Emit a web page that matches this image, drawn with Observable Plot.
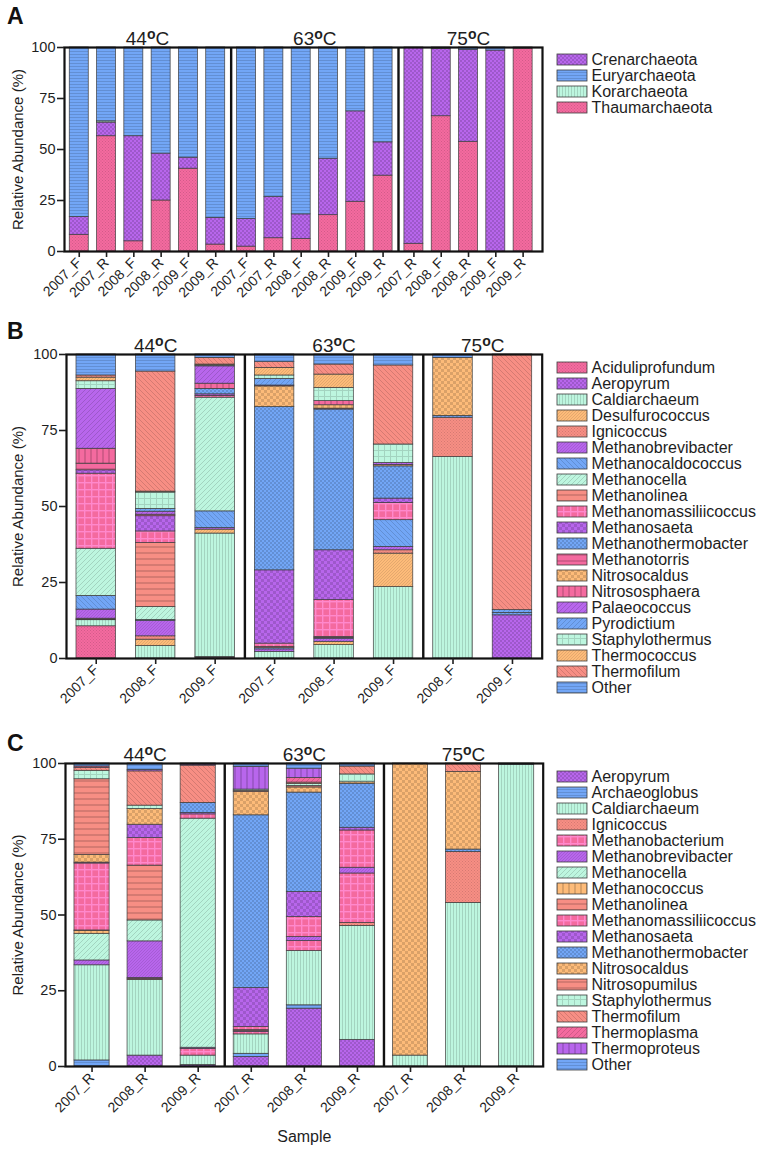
<!DOCTYPE html>
<html><head><meta charset="utf-8">
<script src="https://cdn.jsdelivr.net/npm/d3@7"></script>
<script src="https://cdn.jsdelivr.net/npm/@observablehq/plot@0.6"></script>
<style>
body{margin:0;background:#fff;font-family:"Liberation Sans",Arial,sans-serif;}
#fig{position:relative;width:769px;height:1150px;overflow:hidden;background:#fff}
.abs{position:absolute}
.letter{font-weight:bold;font-size:23px;line-height:1;color:#111}
</style></head><body><div id="fig"></div>
<script>
// ---------------- DATA ----------------
const tempGroups = ["44", "63", "75"];

// Panel A (phylum level)
const samplesA = ["2007_F","2007_R","2008_F","2008_R","2009_F","2009_R",
                  "2007_F","2007_R","2008_F","2008_R","2009_F","2009_R",
                  "2007_R","2008_F","2008_R","2009_F","2009_R"];
const tempsA = ["44","44","44","44","44","44","63","63","63","63","63","63","75","75","75","75","75"];
const legendA = ["Crenarchaeota","Euryarchaeota","Korarchaeota","Thaumarchaeota"];
const stackA = ["Thaumarchaeota","Crenarchaeota","Korarchaeota","Euryarchaeota"];
const thaumarchaeotaA = [8.2,56.5,5.0,25.0,40.6,3.4, 2.4,6.5,6.1,17.8,24.4,37.2, 3.8,66.3,53.8,0,99.5];
const crenarchaeotaA  = [8.7,6.7,51.5,23.0,5.4,13.1, 13.5,20.2,12.1,27.7,44.3,16.3, 96.2,33.0,45.0,98.5,0];
const korarchaeotaA   = [0,0.6,0,0,0,0, 0,0,0,0,0,0, 0,0.4,0,0,0.2];
const euryarchaeotaA  = [83.1,36.2,43.5,52.0,54.0,83.5, 84.1,73.3,81.8,54.5,31.3,46.5, 0,0.3,1.2,1.5,0.3];

// Panel B (genus level, F samples)
const generaB = ["Aciduliprofundum","Aeropyrum","Caldiarchaeum","Desulfurococcus","Ignicoccus",
  "Methanobrevibacter","Methanocaldococcus","Methanocella","Methanolinea","Methanomassiliicoccus",
  "Methanosaeta","Methanothermobacter","Methanotorris","Nitrosocaldus","Nitrososphaera",
  "Palaeococcus","Pyrodictium","Staphylothermus","Thermococcus","Thermofilum","Other"];
const samplesB = ["2007_F","2008_F","2009_F","2007_F","2008_F","2009_F","2008_F","2009_F"];
const tempsB = ["44","44","44","63","63","63","75","75"];
const b44_2007F = [10.6,0,2.0,0.2,0.3,3.0,4.5,15.5,0,24.7,1.1,0,2.2,0,4.9,19.7,0,2.5,1.2,0.7,6.9];
const b44_2008F = [0,0,4.1,2.1,1.1,5.1,0.3,4.2,21.1,3.8,5.0,0,0.5,0,0,1.0,0.9,5.4,0.3,39.5,5.6];
const b44_2009F = [0.3,0.2,40.6,1.3,0,0.5,5.5,37.4,0,0.6,0.5,1.8,0,0,1.7,5.7,0,0.3,0.3,2.2,1.1];
const b63_2007F = [0,0,2.2,0,0,0.8,0.4,0,0.4,1.1,24.1,53.7,0,6.8,0,0.3,2.2,1.1,2.5,1.9,2.5];
const b63_2008F = [0,0,4.4,1.1,0,1.0,0.3,0,0.3,12.1,16.4,46.3,0.3,1.1,1.4,0,0,4.3,4.4,3.3,3.3];
const b63_2009F = [0,0,23.5,11.0,1.1,1.1,8.8,0,0,5.7,1.4,10.6,0,0.5,0,0.6,0,6.1,0,26.0,3.6];
const b75_2008F = [0,0,66.3,0,12.9,0,0,0,0,0,0,0.6,0,19.1,0,0,0,0,0,0,1.1];
const b75_2009F = [0,14.2,0,0,0,0,0,0,0,0,0,0.8,0,0,0,0,0.9,0,0,84.1,0];

// Panel C (genus level, R samples)
const generaC = ["Aeropyrum","Archaeoglobus","Caldiarchaeum","Ignicoccus","Methanobacterium",
  "Methanobrevibacter","Methanocella","Methanococcus","Methanolinea","Methanomassiliicoccus",
  "Methanosaeta","Methanothermobacter","Nitrosocaldus","Nitrosopumilus","Staphylothermus",
  "Thermofilum","Thermoplasma","Thermoproteus","Other"];
const samplesC = ["2007_R","2008_R","2009_R","2007_R","2008_R","2009_R","2007_R","2008_R","2009_R"];
const tempsC = ["44","44","44","63","63","63","75","75","75"];
const c44_2007R = [0,2.0,31.4,0,0,1.6,8.8,0.9,0.2,22.1,0.3,0,2.5,25.0,2.8,0.9,0.5,0,1.0];
const c44_2008R = [3.6,0,25.0,0.3,0.3,12.1,6.9,0,18.1,9.1,4.4,0,5.2,0,1.1,11.3,0,0.5,2.1];
const c44_2009R = [0.5,0,3.1,0,2.2,0.4,75.6,0,0,1.4,0.5,3.3,0,0,0,12.3,0,0.4,0.3];
const c63_2007R = [3.1,1.1,6.4,0,0.8,0.3,0,0,0.3,1.0,12.9,57.0,7.7,0.4,0.4,0,0,7.5,1.1];
const c63_2008R = [19.1,1.1,17.9,0,3.3,1.3,0,0,0,6.6,8.3,32.8,1.7,0.5,0.6,0.5,1.5,3.1,1.7];
const c63_2009R = [8.8,0,37.6,1.0,16.3,1.9,0,0,0,12.3,0.9,14.5,0.5,0,2.6,2.6,0,0,1.0];
const c75_2007R = [0,0,3.6,0,0,0,0,0,0,0,0,0,96.4,0,0,0,0,0,0];
const c75_2008R = [0,0,54.0,16.8,0,0,0,0,0,0,0,0.8,25.6,0,0,2.8,0,0,0];
const c75_2009R = [0,0,99.6,0,0,0,0,0,0,0,0,0,0,0,0,0,0,0,0.4];

// ---------------- STYLES ----------------
const PINK="#F46A9F", PURPLE="#B866EC", BLUE="#72A6F6", GREEN="#BDF6DF", ORANGE="#FDBB79", SALMON="#F78E84";
const taxonStyle = {
  Crenarchaeota:[PURPLE,"checker"], Euryarchaeota:[BLUE,"hl"], Korarchaeota:[GREEN,"vl"], Thaumarchaeota:[PINK,"dots"],
  Aciduliprofundum:[PINK,"dots"], Aeropyrum:[PURPLE,"checker"], Caldiarchaeum:[GREEN,"vl"],
  Desulfurococcus:[ORANGE,"fine"], Ignicoccus:[SALMON,"dots"], Methanobrevibacter:[PURPLE,"fine"],
  Methanocaldococcus:[BLUE,"diagL"], Methanocella:[GREEN,"diagR"], Methanolinea:[SALMON,"whl"],
  Methanomassiliicoccus:[PINK,"grid"], Methanosaeta:[PURPLE,"checkerL"], Methanothermobacter:[BLUE,"checker"],
  Methanotorris:[PINK,"whl"], Nitrosocaldus:[ORANGE,"checkerL"], Nitrososphaera:[PINK,"wvl"],
  Palaeococcus:[PURPLE,"diagR"], Pyrodictium:[BLUE,"diagR"], Staphylothermus:[GREEN,"gridD"],
  Thermococcus:[ORANGE,"fine"], Thermofilum:[SALMON,"diagL"], Other:[BLUE,"hl"],
  Archaeoglobus:[BLUE,"hl"], Methanobacterium:[PINK,"grid"], Methanococcus:[ORANGE,"wvl"],
  Nitrosopumilus:[SALMON,"whl"], Thermoplasma:[PINK,"diagR"], Thermoproteus:[PURPLE,"wvl"]
};
const fillOf = k => `url(#pat-${k})`;

const defs = d3.select("body").append("svg").attr("width",0).attr("height",0)
  .style("position","absolute").append("defs");
function addPattern(name, base, type) {
  const dk = d3.color(base).darker(0.42).formatHex();
  const lt = d3.color(base).brighter(0.7).formatHex();
  const sizes = {dots:3, checker:4, checkerL:6, hl:3, vl:3, whl:6, wvl:6, diagR:5, diagL:5, fine:3, grid:7, gridD:6};
  const s = sizes[type];
  const p = defs.append("pattern").attr("id","pat-"+name).attr("patternUnits","userSpaceOnUse")
    .attr("width", s).attr("height", s);
  const rect = (x,y,w,h,f) => p.append("rect").attr("x",x).attr("y",y).attr("width",w).attr("height",h).attr("fill",f);
  const path = (d,c,w) => p.append("path").attr("d",d).attr("stroke",c).attr("stroke-width",w).attr("fill","none");
  rect(0,0,s,s,base);
  switch(type) {
    case "dots": rect(0,0,1,1,dk); rect(1.5,1.5,1,1,dk); break;
    case "checker": rect(0,0,2,2,dk); rect(2,2,2,2,dk); break;
    case "checkerL": rect(0,0,3,3,dk); rect(3,3,3,3,dk); break;
    case "hl": rect(0,0,s,1,dk); break;
    case "vl": rect(0,0,1,s,dk); break;
    case "whl": rect(0,0,s,2,dk); break;
    case "wvl": rect(0,0,2,s,dk); break;
    case "diagR": path("M-1,1L1,-1M0,5L5,0M4,6L6,4", dk, 1); break;
    case "diagL": path("M-1,4L1,6M0,0L5,5M4,-1L6,1", dk, 1); break;
    case "fine": path("M-1,1L1,-1M0,3L3,0M2,4L4,2", dk, 0.7); break;
    case "grid": rect(0,0,s,1.4,lt); rect(0,0,1.4,s,lt); break;
    case "gridD": rect(0,0,s,1,dk); rect(0,0,1,s,dk); break;
  }
}
for (const [name,[c,t]] of Object.entries(taxonStyle)) addPattern(name, c, t);

// ---------------- DRAWING ----------------
const fig = document.getElementById("fig");
const FONT = '"Liberation Sans", Arial, sans-serif';
const baseStyle = {fontFamily: FONT, color: "#1e1e1e", background: "transparent", overflow: "visible"};

function place(el, left, top) {
  el.classList.add("abs"); el.style.left = left + "px"; el.style.top = top + "px"; fig.appendChild(el);
}

function panel(o) {
  const grp = o.temps.map(t => tempGroups.indexOf(t));
  const pos = grp.map((g, i) => i + o.gap * g);
  const rows = [];
  o.bars.forEach((vals, i) => o.keys.forEach((k, j) => {
    if (vals[j] > 0) rows.push({pos: pos[i], key: k, value: vals[j]});
  }));
  const seps = [];
  for (let i = 1; i < pos.length; i++) if (grp[i] !== grp[i-1]) seps.push((pos[i] + pos[i-1]) / 2);
  const heads = tempGroups.map(t => {
    const ps = pos.filter((p, i) => o.temps[i] === t);
    return {t: t + "ºC", x: d3.mean(ps)};
  });
  const labels = new Map(pos.map((p, i) => [p, o.samples[i]]));
  const svg = Plot.plot({
    width: 545, height: o.height,
    marginTop: o.mt, marginBottom: o.mb, marginLeft: o.ml, marginRight: 545 - o.right,
    x: {domain: [-o.padL, pos[pos.length-1] + o.padR], axis: null},
    y: {domain: [0, 100], axis: null},
    style: baseStyle,
    marks: [
      Plot.rectY(rows, {x1: d => d.pos - o.half, x2: d => d.pos + o.half, y: "value",
        fill: d => fillOf(d.key), stroke: "#3c3c3c", strokeWidth: 0.7}),
      Plot.ruleX(seps, {stroke: "#111", strokeWidth: 2.4}),
      Plot.frame({stroke: "#111", strokeWidth: 2.2}),
      Plot.axisY({ticks: [0,25,50,75,100], tickSize: 7, tickPadding: 2, fontSize: 14.5, strokeWidth: 1.6, label: null}),
      Plot.axisX({ticks: pos, tickFormat: d => labels.get(d), tickRotate: -45, tickSize: 6,
        tickPadding: 3, fontSize: 14, strokeWidth: 1.6, label: null}),
      Plot.text(heads, {x: "x", text: "t", frameAnchor: "top", lineAnchor: "bottom", dy: -3,
        fontSize: 19}),
      Plot.text(["Relative Abundance (%)"], {frameAnchor: "left", textAnchor: "middle", rotate: -90,
        dx: 18 - o.ml, fontSize: 15}),
      o.xLabel ? Plot.text([o.xLabel], {frameAnchor: "bottom", dy: 75, fontSize: 16}) : null
    ]
  });
  // superscript bold "o" in the temperature headers
  d3.select(svg).selectAll("text").filter(function() { return /^\d+ºC$/.test(this.textContent); })
    .each(function() {
      const num = this.textContent.replace("ºC", "");
      const s = d3.select(this);
      s.text(null);
      s.append("tspan").text(num);
      s.append("tspan").attr("font-weight", "bold").attr("font-size", "14px").attr("dy", "-6").text("o");
      s.append("tspan").attr("dy", "6").text("C");
    });
  place(svg, 0, o.top);
}

function legend(cats, step, top) {
  const n = cats.length;
  const svg = Plot.plot({
    width: 213, height: Math.ceil(n * step) + 2, margin: 0,
    x: {domain: [0, 1], range: [1, 31], axis: null},
    y: {domain: cats, range: [0, n * step], paddingInner: 0.3, paddingOuter: 0.15, axis: null},
    style: baseStyle,
    marks: [
      Plot.barX(cats, {y: d => d, x1: 0, x2: 1, fill: d => fillOf(d), stroke: "#3c3c3c", strokeWidth: 0.8}),
      Plot.text(cats, {y: d => d, x: 1, text: d => d, dx: 4, textAnchor: "start", fontSize: 16})
    ]
  });
  place(svg, 556, top);
}

function letter(t, left, top) {
  const d = document.createElement("div"); d.className = "letter"; d.textContent = t; place(d, left, top);
}

// Panel A
const seriesA = {Thaumarchaeota: thaumarchaeotaA, Crenarchaeota: crenarchaeotaA,
                 Korarchaeota: korarchaeotaA, Euryarchaeota: euryarchaeotaA};
const barsA = samplesA.map((s, i) => stackA.map(k => seriesA[k][i]));
panel({samples: samplesA, temps: tempsA, bars: barsA, keys: stackA, gap: 0.13,
  padL: 0.54, padR: 0.71, half: 0.348, top: 0, height: 300, mt: 47, mb: 49, ml: 64, right: 542});
legend(legendA, 16.1, 51.2);
letter("A", 7, 5);

// Panel B
panel({samples: samplesB, temps: tempsB, keys: generaB,
  bars: [b44_2007F, b44_2008F, b44_2009F, b63_2007F, b63_2008F, b63_2009F, b75_2008F, b75_2009F],
  gap: 0, padL: 0.5, padR: 0.5, half: 0.332, top: 300, height: 408, mt: 54, mb: 50, ml: 66, right: 541.7});
legend(generaB, 16.9, 349.9);
letter("B", 7, 320);

// Panel C
panel({samples: samplesC, temps: tempsC, keys: generaC,
  bars: [c44_2007R, c44_2008R, c44_2009R, c63_2007R, c63_2008R, c63_2009R, c75_2007R, c75_2008R, c75_2009R],
  gap: 0, padL: 0.5, padR: 0.5, half: 0.331, top: 708, height: 442, mt: 55, mb: 84, ml: 65, right: 542.7,
  xLabel: "Sample"});
legend(generaC, 16.97, 758.8);
letter("C", 7, 732);
</script></body></html>
